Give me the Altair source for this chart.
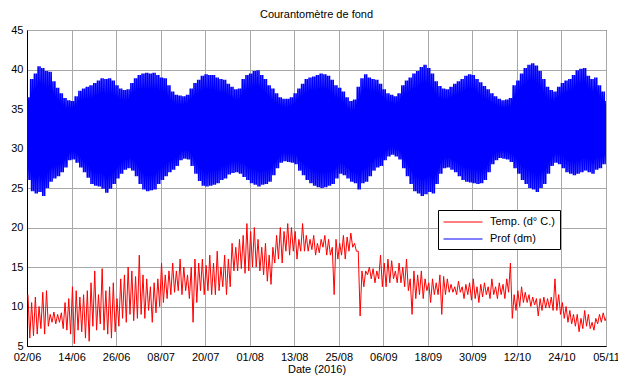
import altair as alt
import pandas as pd

# ---- data ----
x_tick_labels = ["02/06", "14/06", "26/06", "08/07", "20/07", "01/08", "13/08",
                 "25/08", "06/09", "18/09", "30/09", "12/10", "24/10", "05/11"]

# depth (dm): daily upper / lower envelope of the tidal signal, day 0 = 02/06/2016
prof_hi = [36.5, 38.8, 39.5, 40.4, 40.2, 39.8, 39.7, 38.5, 37.7, 37.0,
           36.4, 36.1, 36.0, 36.6, 37.3, 37.6, 37.8, 38.0, 38.3, 38.6,
           38.9, 38.8, 38.9, 38.6, 38.0, 37.6, 37.4, 37.5, 38.3, 38.9,
           39.3, 39.5, 39.6, 39.5, 39.6, 39.3, 39.0, 38.9, 38.0, 37.2,
           36.8, 36.7, 36.6, 36.8, 37.6, 38.3, 38.7, 39.2, 39.4, 39.3,
           39.3, 39.0, 38.8, 38.7, 38.2, 37.8, 37.5, 37.6, 38.8, 39.3,
           39.5, 39.8, 39.9, 39.3, 38.8, 38.0, 37.6, 37.0, 36.5, 36.3,
           36.3, 36.5, 37.0, 37.6, 38.2, 38.8, 39.0, 39.1, 39.3, 39.5,
           39.4, 39.2, 38.7, 38.0, 37.7, 37.2, 36.5, 36.0, 36.2, 37.8,
           38.9, 39.4, 39.0, 38.8, 38.7, 38.2, 37.5, 37.0, 36.8, 36.6,
           37.0, 38.0, 38.6, 39.0, 39.5, 39.8, 40.3, 40.6, 40.2, 39.5,
           38.5, 37.9, 37.6, 37.5, 37.8, 38.2, 38.5, 38.8, 39.2, 39.4,
           39.3, 38.8, 38.4, 37.9, 37.5, 37.0, 36.6, 36.3, 36.1, 36.2,
           36.4, 38.0, 38.6, 39.5, 40.2, 40.6, 40.8, 40.5, 39.8, 38.8,
           37.8, 37.4, 37.2, 37.8, 38.3, 38.6, 38.8, 39.3, 39.9, 40.1,
           40.2, 39.2, 38.8, 39.0, 38.0, 37.2, 36.0]
prof_lo = [26.0, 24.6, 24.3, 24.5, 24.0, 25.0, 25.8, 26.2, 26.5, 27.0,
           27.6, 28.5, 28.6, 28.2, 27.6, 27.0, 26.3, 25.5, 25.3, 25.2,
           24.9, 24.4, 24.9, 25.5, 26.2, 26.8, 27.3, 27.5, 27.2, 26.5,
           25.5, 24.8, 24.6, 24.7, 24.8, 25.5, 26.0, 26.5, 27.0, 27.3,
           27.8, 28.5, 28.7, 28.6, 27.8, 26.8, 25.9, 25.3, 25.2, 25.3,
           25.4, 25.6, 26.0, 26.2, 26.7, 26.9, 27.0, 26.8, 26.4, 26.0,
           25.6, 25.4, 25.2, 25.4, 25.5, 25.8, 26.6, 27.5, 28.2, 28.4,
           28.3, 28.2, 28.0, 27.2, 26.6, 26.0, 25.6, 25.3, 25.1, 25.0,
           25.1, 25.3, 25.5, 26.2, 26.8, 26.6, 26.2, 25.8, 25.6, 24.8,
           25.6, 25.8, 26.5, 27.2, 27.6, 27.8, 28.5, 29.0, 29.2, 29.0,
           28.6, 27.5, 26.5, 25.5, 24.6, 24.3, 24.0, 24.2, 24.5, 24.3,
           25.5, 26.8, 27.5, 27.6, 27.3, 27.0, 26.5, 26.0, 25.8, 25.7,
           25.6, 25.5, 25.6, 26.0, 27.0, 28.0, 28.5, 28.8, 28.7, 28.6,
           28.3, 27.5, 26.8, 26.0, 25.5, 25.0, 24.8, 24.5, 25.0, 25.5,
           26.8, 27.8, 28.2, 28.0, 27.5, 27.0, 26.8, 26.6, 26.8, 27.0,
           27.2, 27.0, 26.8, 27.3, 27.5, 28.0, 29.5]

# temperature (deg C): daily high / low of the noisy trace
temp_hi = [11.5, 10.5, 11.2, 10.0, 11.8, 12.0, 9.0, 9.3, 9.0, 9.2,
           10.5, 11.0, 12.5, 12.0, 11.2, 11.5, 12.0, 13.0, 14.5, 11.5,
           14.8, 12.0, 12.5, 13.0, 11.0, 13.5, 14.0, 15.0, 14.5, 13.8,
           16.5, 14.0, 13.5, 12.5, 13.0, 13.5, 15.5, 14.0, 14.5, 15.5,
           14.5, 16.0, 15.0, 14.0, 15.0, 16.0, 15.5, 16.0, 15.2, 16.5,
           15.5, 17.0, 15.0, 16.5, 16.0, 18.0, 17.5, 18.5, 19.0, 20.5,
           19.5, 20.0, 18.5, 17.5, 18.0, 16.5, 17.5, 19.0, 20.0, 19.5,
           20.5, 20.0, 19.5, 18.5, 20.5, 19.0, 18.5, 19.0, 18.0, 18.5,
           19.0, 18.5, 17.5, 18.5, 18.0, 19.0, 18.8, 19.3, 18.0, 17.0,
           14.5, 14.5, 15.0, 14.8, 14.5, 16.5, 15.5, 16.0, 15.8, 14.5,
           15.5, 15.0, 16.0, 13.5, 14.5, 14.0, 14.5, 13.5, 13.0, 13.5,
           13.0, 14.0, 13.8, 13.5, 12.8, 12.5, 13.2, 12.5, 12.8, 13.0,
           13.5, 12.5, 12.8, 13.0, 12.5, 13.5, 12.5, 13.0, 12.8, 13.5,
           15.5, 11.5, 12.0, 12.5, 11.8, 11.5, 11.2, 11.0, 11.0, 11.2,
           11.0, 11.2, 13.5, 11.5, 10.5, 10.0, 9.5, 9.0, 9.0, 8.5,
           9.5, 9.0, 8.0, 8.5, 9.0, 9.2, 8.8]
temp_lo = [6.0, 6.3, 6.5, 7.2, 6.5, 7.5, 8.0, 7.8, 8.0, 7.2,
           7.0, 6.5, 5.3, 7.0, 6.8, 6.0, 5.6, 7.5, 7.0, 7.8,
           7.0, 6.5, 6.0, 6.8, 7.5, 8.5, 8.0, 9.0, 8.2, 8.5,
           9.0, 8.5, 9.5, 8.0, 9.2, 10.0, 10.5, 11.0, 11.5, 11.8,
           12.0, 11.5, 12.0, 11.0, 8.0, 10.5, 12.0, 11.5, 12.0, 11.5,
           11.5, 12.0, 12.5, 11.5, 12.5, 14.5, 14.5, 14.8, 14.2, 14.5,
           15.0, 15.0, 14.5, 14.0, 13.2, 12.8, 15.5, 16.0, 15.5, 17.0,
           16.5, 17.0, 16.0, 17.0, 17.0, 17.0, 17.2, 16.5, 16.8, 17.5,
           16.5, 16.5, 11.5, 16.0, 16.5, 16.0, 17.0, 17.5, 17.0, 8.8,
           12.5, 14.0, 13.5, 13.0, 13.5, 12.5, 12.5, 13.0, 13.5, 13.0,
           13.0, 12.5, 12.0, 9.0, 11.0, 11.5, 11.0, 12.0, 10.5, 11.5,
           11.5, 9.0, 11.5, 11.8, 11.8, 11.5, 11.8, 11.0, 11.5, 10.8,
           11.0, 10.5, 11.2, 11.5, 11.0, 11.5, 11.0, 11.5, 11.0, 11.8,
           8.5, 9.5, 10.0, 10.5, 10.5, 10.0, 10.2, 8.8, 9.5, 9.8,
           9.8, 9.5, 9.5, 9.0, 8.5, 8.0, 7.8, 7.5, 6.8, 7.2,
           7.5, 7.2, 7.0, 7.8, 8.0, 8.2, 8.0]

TEMP = "Temp. (d° C.)"
PROF = "Prof (dm)"

rows = []
for d, (h, l) in enumerate(zip(prof_hi, prof_lo)):
    rows += [(d + 0.0, h, PROF), (d + 0.25, l, PROF),
             (d + 0.5, h, PROF), (d + 0.75, l, PROF)]
for d, (h, l) in enumerate(zip(temp_hi, temp_lo)):
    rows += [(d + 0.25, h, TEMP), (d + 0.75, l, TEMP)]
df = pd.DataFrame(rows, columns=["day", "value", "series"])

FONT = "Liberation Sans"
label_expr = "[" + ",".join("'%s'" % s for s in x_tick_labels) + "][round(datum.value/12)]"

base = alt.Chart(df).encode(
    x=alt.X("day:Q", scale=alt.Scale(domain=[0, 156], nice=False, zero=False),
            axis=alt.Axis(values=list(range(0, 157, 12)), labelExpr=label_expr,
                          title="Date (2016)", grid=True, ticks=False,
                          labelFlush=False, labelAlign="center",
                          labelPadding=5, titlePadding=1)),
    y=alt.Y("value:Q", scale=alt.Scale(domain=[5, 45], nice=False, zero=False),
            axis=alt.Axis(values=list(range(5, 46, 5)), title=None, grid=True,
                          ticks=False, labelPadding=4, labelFlush=False)),
    color=alt.Color("series:N",
                    scale=alt.Scale(domain=[TEMP, PROF], range=["#ff0000", "#0000ff"]),
                    legend=alt.Legend(title=None, orient="none", legendX=411, legendY=180,
                                      symbolType="M-3,0H3", symbolSize=169,
                                      symbolStrokeWidth=1, symbolOffset=13,
                                      labelFontSize=11,
                                      labelFont=FONT, labelColor="black",
                                      padding=5, rowPadding=5, labelOffset=20,
                                      labelExpr="datum.label + '\u00a0\u00a0'",
                                      strokeColor="black", fillColor="white")),
    detail="series:N",
)

prof_layer = base.transform_filter(alt.datum.series == PROF).mark_line(clip=True, strokeWidth=1.6)
temp_layer = base.transform_filter(alt.datum.series == TEMP).mark_line(clip=True, strokeWidth=1.0)

chart = alt.layer(prof_layer, temp_layer).properties(
    width=579, height=316,
    title=alt.TitleParams("Courantomètre de fond", fontSize=11, fontWeight="normal",
                          font=FONT, color="black", offset=4),
    padding={"left": 27, "top": 30, "right": 12, "bottom": 32},
    autosize="none",
).configure_view(
    stroke="black", strokeWidth=1
).configure_axis(
    labelFont=FONT, labelFontSize=11, labelColor="black",
    titleFont=FONT, titleFontSize=11, titleFontWeight="normal", titleColor="black",
    gridColor="#a8a8a8", gridWidth=1, gridOpacity=1,
    domainColor="black", domainWidth=1,
)

chart.save("out.html", embed_options={"renderer": "svg", "actions": False})
